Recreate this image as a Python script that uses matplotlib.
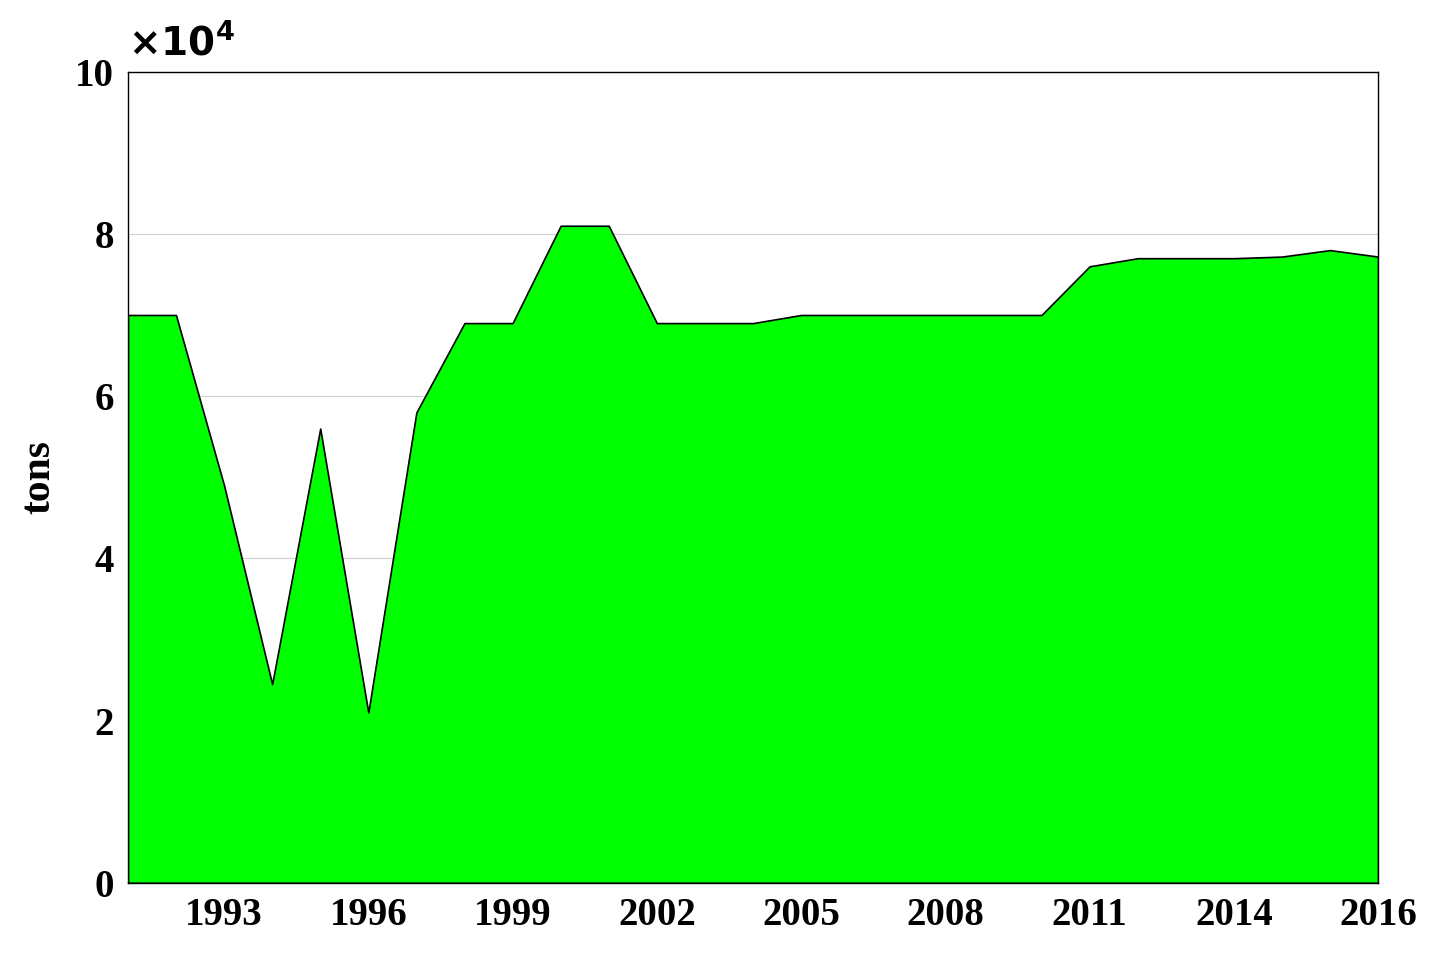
import matplotlib
matplotlib.use("Agg")
import matplotlib.pyplot as plt
import numpy as np

values = [70000, 70000, 49000, 24500, 56000, 21000, 58000, 69000, 69000, 81000, 81000,
          69000, 69000, 69000, 70000, 70000, 70000, 70000, 70000, 70000, 76000, 77000,
          77000, 77000, 77200, 78000, 77200]
tick_pos = [2, 5, 8, 11, 14, 17, 20, 23, 26]
tick_labels = ["1993", "1996", "1999", "2002", "2005", "2008", "2011", "2014", "2016"]

plt.rcParams['font.family'] = ['Liberation Serif', 'DejaVu Serif']
plt.rcParams['font.weight'] = 'bold'
fig = plt.figure(figsize=(14.37, 9.68), dpi=100)
ax = fig.add_axes([0.089, 0.088, 0.870, 0.838])
x = np.arange(len(values))
ax.fill_between(x, np.array(values) / 1e4, color='#00ff00', edgecolor='black', linewidth=1.2, zorder=2)
ax.set_xlim(0, 26)
ax.set_ylim(0, 10)
ax.set_yticks([0, 2, 4, 6, 8, 10])
ax.set_xticks(tick_pos)
ax.set_xticklabels(tick_labels)
ax.grid(axis='y', color='#d0d0d0', linewidth=0.8, zorder=0)
ax.set_axisbelow(True)
ax.tick_params(labelsize=28, direction='in', length=0, pad=10)
for lab in ax.get_xticklabels() + ax.get_yticklabels():
    lab.set_fontweight('bold')
ax.set_ylabel('tons', fontsize=30, fontweight='bold', labelpad=12)
ax.text(0.0, 1.01, r'$\times 10^4$', transform=ax.transAxes, fontsize=28,
        ha='left', va='bottom', family='Liberation Serif')
for s in ax.spines.values():
    s.set_linewidth(1.0)
fig.savefig('out.png', dpi=100)
